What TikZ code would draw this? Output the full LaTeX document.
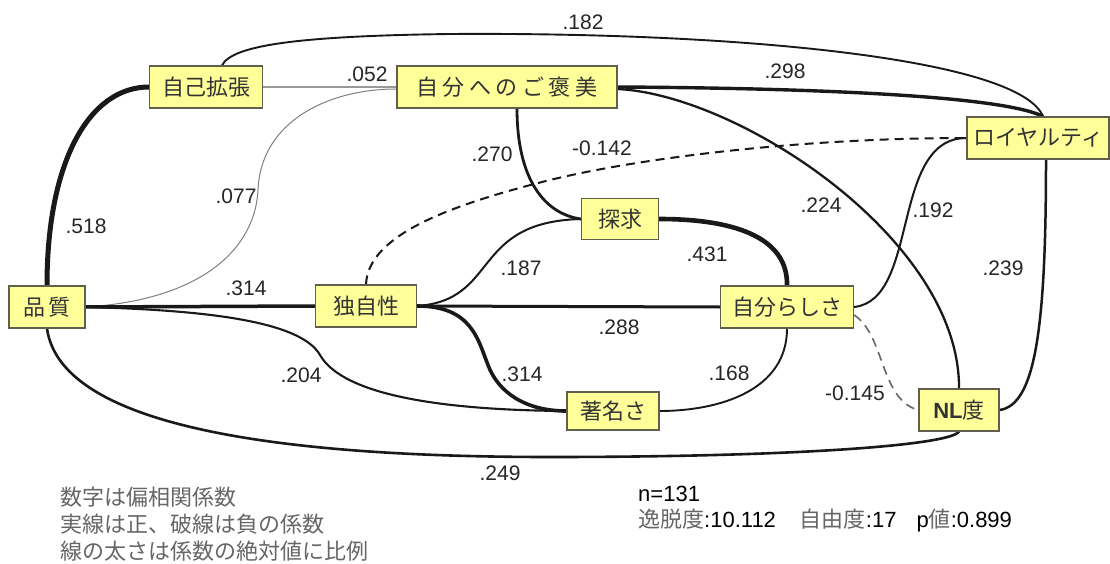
\documentclass[tikz,border=0pt]{standalone}
\usepackage{fontspec}
\setmainfont{Liberation Sans}
\newfontfamily\cjk{Noto Sans CJK JP}
\usetikzlibrary{backgrounds}
\pgfdeclarelayer{edges}
\pgfsetlayers{background,edges,main}
\definecolor{boxfill}{RGB}{255,255,153}
\definecolor{boxdraw}{RGB}{95,95,75}
\tikzset{
  box/.style={draw=boxdraw, line width=1.2pt, fill=boxfill, inner sep=0pt,
    minimum height=42pt, font=\cjk\fontsize{22}{24}\selectfont, text=black!80},
  lab/.style={font=\fontsize{21}{23}\selectfont, text=black!85, inner sep=0pt},
  conn/.style={draw=black!90, line cap=round},
  neg/.style={dash pattern=on 9pt off 6pt, line cap=butt},
  legend/.style={font=\cjk\fontsize{22}{24}\selectfont, text=black!60, anchor=west, inner sep=0pt},
  stat/.style={font=\fontsize{22}{24}\selectfont, text=black, anchor=west, inner sep=0pt}
}
\newcommand{\gsp}{\kern4.5pt}
\newcommand{\grayjp}[1]{{\cjk\color{black!60}#1}}
\begin{document}
\begin{tikzpicture}[x=1pt,y=-1pt]
\begin{pgfonlayer}{background}
\fill[white] (0,0) rectangle (1110,564);
\end{pgfonlayer}
\path[use as bounding box] (0,0) rectangle (1110,564);

% nodes
\node[box, minimum width=76pt] (hin) at (47,307) {品\kern3pt 質};
\node[box, minimum width=101pt] (dok) at (366,306) {独自性};
\node[box, minimum width=133pt] (jib) at (787,307) {自分らしさ};
\node[box, minimum width=77pt, minimum height=41pt] (tan) at (620,219) {探求};
\node[box, minimum width=92pt, minimum height=38pt] (cho) at (613,411) {著名さ};
\node[box, minimum width=80pt] (nl) at (959,410) {{\fontspec{Liberation Sans}\bfseries NL}度};
\node[box, minimum width=142pt] (loy) at (1038,138) {ロイヤルティ};
\node[box, minimum width=113pt] (jik) at (206,87) {自己拡張};
\node[box, minimum width=220pt] (goh) at (507,87) {自\gsp 分\gsp へ\gsp の\gsp ご\gsp 褒\gsp 美};

\begin{pgfonlayer}{edges}
% .182
\draw[conn, line width=1.9] ([xshift=16]jik.north) .. controls (232,45) and (300,36) .. (450,34) .. controls (750,32) and (1020,60) .. ([xshift=5]loy.north);
% .052
\draw[line width=1.6, draw=black!40] (jik.east) -- (goh.west);
% .518
\draw[conn, line width=5] (hin.north) .. controls (47,160) and (90,87) .. (jik.west);
% .077
\draw[line width=1, draw=black!50] (hin.east) .. controls (200,300) and (255,250) .. (258,190) .. controls (261,120) and (330,89) .. ([yshift=-2]goh.west);
% .298
\draw[conn, line width=3.4] (goh.east) .. controls (800,88) and (1000,95) .. ([xshift=5]loy.north);
% .224
\draw[conn, line width=2.3] ([yshift=-2]goh.east) .. controls (740,95) and (960,240) .. (nl.north);
% .270
\draw[conn, line width=2.8] ([xshift=10]goh.south) .. controls (517,180) and (545,214) .. (tan.west);
% -0.142
\draw[conn, line width=2, neg] (dok.north) .. controls (368,235) and (450,205) .. (550,180) .. controls (640,158) and (800,138) .. (loy.west);
% .187
\draw[conn, line width=2] (dok.east) .. controls (500,300) and (470,222) .. (tan.west);
% .431
\draw[conn, line width=4.6] (tan.east) .. controls (740,219) and (788,240) .. (jib.north);
% .288
\draw[conn, line width=3] (dok.east) -- (jib.west);
% .314
\draw[conn, line width=3.5] (hin.east) -- (dok.west);
% .314 lower
\draw[conn, line width=3.6] (dok.east) .. controls (472,306) and (478,340) .. (488,365) .. controls (498,392) and (525,411) .. (cho.west);
% .204
\draw[conn, line width=2.1] (hin.east) .. controls (200,310) and (300,320) .. (320,355) .. controls (340,390) and (420,410) .. (cho.west);
% .168
\draw[conn, line width=1.9] (jib.south) .. controls (787,390) and (720,411) .. (cho.east);
% .192
\draw[conn, line width=2] (jib.east) .. controls (920,300) and (890,138) .. (loy.west);
% -0.145
\draw[line width=1.6, draw=black!60, neg] ([yshift=-8]jib.east) .. controls (885,335) and (880,400) .. (nl.west);
% .239
\draw[conn, line width=2.5] ([xshift=8]loy.south) .. controls (1046,330) and (1035,405) .. (nl.east);
% .249
\draw[conn, line width=2.6] (hin.south) .. controls (60,420) and (250,457) .. (550,457) .. controls (800,457) and (950,445) .. (nl.south);
\end{pgfonlayer}

% labels
\node[lab] at (583,22) {.182};
\node[lab] at (367,74) {.052};
\node[lab] at (785,71) {.298};
\node[lab] at (492,154) {.270};
\node[lab] at (602,148) {-0.142};
\node[lab] at (236,196) {.077};
\node[lab] at (821,205) {.224};
\node[lab] at (933,210) {.192};
\node[lab] at (86,226) {.518};
\node[lab] at (521,268) {.187};
\node[lab] at (707,254) {.431};
\node[lab] at (1003,268) {.239};
\node[lab] at (246,288) {.314};
\node[lab] at (619,327) {.288};
\node[lab] at (522,374) {.314};
\node[lab] at (301,375) {.204};
\node[lab] at (729,373) {.168};
\node[lab] at (855,393) {-0.145};
\node[lab] at (500,473) {.249};

% legend
\node[legend] at (60,497) {数字は偏相関係数};
\node[legend] at (60,524) {実線は正、破線は負の係数};
\node[legend] at (60,551) {線の太さは係数の絶対値に比例};
\node[stat] at (638,494) {n=131};
\node[stat] at (638,521) {\grayjp{逸脱度}:10.112\hspace{24pt}\grayjp{自由度}:17\hspace{20pt}p\grayjp{値}:0.899};
\end{tikzpicture}
\end{document}
